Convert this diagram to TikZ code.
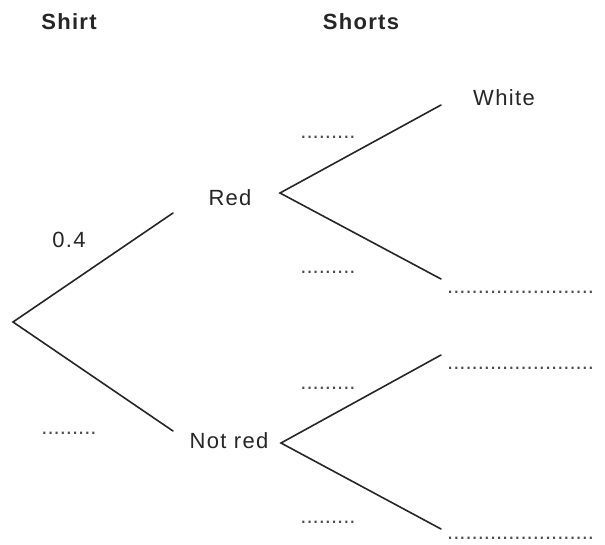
\documentclass[tikz,border=0pt]{standalone}
\usepackage{fontspec}
\setmainfont{Liberation Sans}
\newfontfamily\spacedfont[LetterSpace=6]{Liberation Sans}
\begin{document}
\begin{tikzpicture}[x=1pt,y=-1pt,
  lbl/.style={inner sep=0pt,font=\fontsize{22}{26}\spacedfont,text=black!85},
  hdr/.style={inner sep=0pt,font=\fontsize{22}{26}\spacedfont\bfseries,text=black!85},
  gap/.style={inner sep=0pt,font=\fontsize{22}{26}\selectfont,text=black!70},
  branch/.style={line width=1.6pt,draw=black!85,line cap=round}]
\useasboundingbox (0,0) rectangle (605,544);
% headers
\node[hdr] (shirt) at (69,22) {Shirt};
\node[hdr] (shorts) at (361,22) {Shorts};
% branch points
\coordinate (root) at (13,322);
\coordinate (redin) at (173,213);
\coordinate (notin) at (173,431);
\coordinate (redout) at (280,193);
\coordinate (notout) at (281,443);
\coordinate (whiteend) at (441,105);
\coordinate (rd2end) at (441,279);
\coordinate (nr1end) at (441,355);
\coordinate (nr2end) at (441,529);
% labels
\node[lbl] (red) at (230,198) {Red};
\node[lbl] (notred) at (229,441) {Not red};
\node[lbl] (white) at (504,98) {White};
\node[lbl] (p04) at (69,240) {0.4};
\node[gap] (pnr) at (69,433) {.........};
\node[gap] (pw) at (328,137) {.........};
\node[gap] (prd) at (328,272) {.........};
\node[gap] (pnr1) at (328,388) {.........};
\node[gap] (pnr2) at (328,522) {.........};
\node[gap,anchor=west] (o2) at (447,292) {........................};
\node[gap,anchor=west] (o3) at (447,368) {........................};
\node[gap,anchor=west] (o4) at (447,538) {........................};
% branches
\draw[branch] (redin) -- (root) -- (notin);
\draw[branch] (whiteend) -- (redout) -- (rd2end);
\draw[branch] (nr1end) -- (notout) -- (nr2end);
\end{tikzpicture}
\end{document}
